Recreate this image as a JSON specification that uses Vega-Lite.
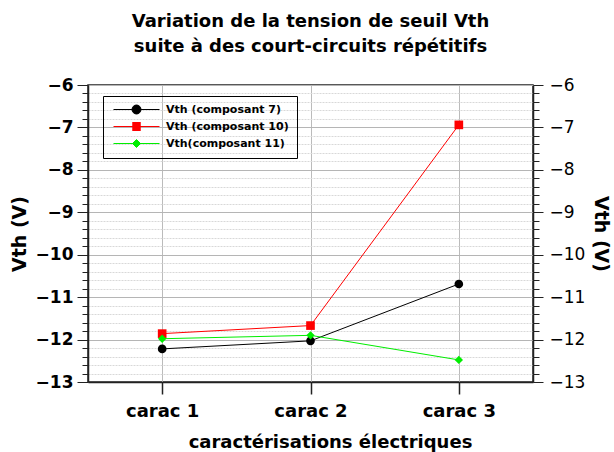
{
  "$schema": "https://vega.github.io/schema/vega-lite/v6.json",
  "width": 445,
  "height": 297,
  "autosize": "none",
  "padding": {"left": 88, "top": 85, "right": 81, "bottom": 70},
  "background": "white",
  "config": {
    "font": "DejaVu Sans",
    "view": {"stroke": "#222", "strokeWidth": 1.5}
  },
  "title": {
    "text": ["Variation de la tension de seuil Vth", "suite à des court-circuits répétitifs"],
    "font": "DejaVu Sans",
    "fontSize": 18,
    "fontWeight": "bold",
    "color": "black",
    "lineHeight": 25,
    "anchor": "middle",
    "offset": 20
  },
  "data": {
    "values": [
      {"carac": "carac 1", "serie": "Vth (composant 7)", "vth": -12.22},
      {"carac": "carac 2", "serie": "Vth (composant 7)", "vth": -12.03},
      {"carac": "carac 3", "serie": "Vth (composant 7)", "vth": -10.69},
      {"carac": "carac 1", "serie": "Vth (composant 10)", "vth": -11.86},
      {"carac": "carac 2", "serie": "Vth (composant 10)", "vth": -11.67},
      {"carac": "carac 3", "serie": "Vth (composant 10)", "vth": -6.94},
      {"carac": "carac 1", "serie": "Vth(composant 11)", "vth": -11.98},
      {"carac": "carac 2", "serie": "Vth(composant 11)", "vth": -11.9},
      {"carac": "carac 3", "serie": "Vth(composant 11)", "vth": -12.48}
    ]
  },
  "encoding": {
    "x": {
      "field": "carac",
      "type": "nominal",
      "scale": {"type": "point", "padding": 0.5},
      "axis": {
        "title": "caractérisations électriques",
        "titleFont": "DejaVu Sans",
        "titleFontSize": 18,
        "titleFontWeight": "bold",
        "titleColor": "black",
        "titlePadding": 13,
        "titleX": 242,
        "titleAlign": "center",
        "labelAngle": 0,
        "labelFont": "DejaVu Sans",
        "labelFontSize": 18,
        "labelFontWeight": "bold",
        "labelColor": "black",
        "labelPadding": 8,
        "tickSize": 12,
        "tickColor": "#222",
        "tickWidth": 1.5,
        "domainColor": "#222",
        "domainWidth": 1.5,
        "grid": true,
        "gridColor": "#bbbbbb",
        "gridWidth": 1
      }
    }
  },
  "layer": [
    {
      "mark": {"type": "line", "strokeWidth": 1},
      "encoding": {
        "y": {
          "field": "vth",
          "type": "quantitative",
          "scale": {"domain": [-13, -6], "nice": false, "zero": false},
          "axis": {
            "orient": "left",
            "title": "Vth (V)",
            "titleFont": "DejaVu Sans",
            "titleFontSize": 19,
            "titleFontWeight": "bold",
            "titleColor": "black",
            "titlePadding": 6,
            "values": [-13, -12, -11, -10, -9, -8, -7, -6],
            "format": "d",
            "labelFont": "DejaVu Sans",
            "labelFontSize": 17,
            "labelFontWeight": "bold",
            "labelColor": "black",
            "labelPadding": 4,
            "labelBound": false,
            "labelOverlap": false,
            "labelFlush": false,
            "tickSize": 11,
            "tickColor": "#222",
            "tickWidth": 1,
            "domainColor": "#222",
            "domainWidth": 1.5,
            "grid": true,
            "gridColor": "#b5b5b5",
            "gridWidth": 1
          }
        },
        "color": {
          "field": "serie",
          "type": "nominal",
          "scale": {
            "domain": ["Vth (composant 7)", "Vth (composant 10)", "Vth(composant 11)"],
            "range": ["#000000", "#ff0000", "#00ee00"]
          },
          "legend": {
            "orient": "none",
            "legendX": 15,
            "legendY": 11,
            "title": null,
            "strokeColor": "black",
            "padding": 8,
            "rowPadding": 4,
            "labelFont": "DejaVu Sans",
            "labelFontSize": 11,
            "labelFontWeight": "bold",
            "labelColor": "black",
            "symbolSize": 100,
            "symbolStrokeWidth": 1,
            "symbolOffset": 20,
            "labelOffset": 24,
            "symbolType": {"expr": "datum.value === 'Vth (composant 7)' ? 'M-4.6,0L4.6,0M-0.9,0A0.9,0.9,0,1,1,0.9,0A0.9,0.9,0,1,1,-0.9,0M-0.7,0A0.7,0.7,0,1,1,0.7,0A0.7,0.7,0,1,1,-0.7,0M-0.5,0A0.5,0.5,0,1,1,0.5,0A0.5,0.5,0,1,1,-0.5,0M-0.3,0A0.3,0.3,0,1,1,0.3,0A0.3,0.3,0,1,1,-0.3,0M-0.1,0A0.1,0.1,0,1,1,0.1,0A0.1,0.1,0,1,1,-0.1,0' : datum.value === 'Vth (composant 10)' ? 'M-4.6,0L4.6,0M-0.85,-0.8L0.85,-0.8M-0.85,-0.6L0.85,-0.6M-0.85,-0.4L0.85,-0.4M-0.85,-0.2L0.85,-0.2M-0.85,0.2L0.85,0.2M-0.85,0.4L0.85,0.4M-0.85,0.6L0.85,0.6M-0.85,0.8L0.85,0.8' : 'M-4.6,0L4.6,0M0,-0.8L0.8,0L0,0.8L-0.8,0ZM0,-0.6L0.6,0L0,0.6L-0.6,0ZM0,-0.4L0.4,0L0,0.4L-0.4,0ZM0,-0.2L0.2,0L0,0.2L-0.2,0Z'"},
            "symbolFillColor": {"expr": "scale('color', datum.value)"},
            "symbolStrokeColor": {"expr": "scale('color', datum.value)"}
          }
        }
      }
    },
    {
      "transform": [{"filter": "datum.serie === 'Vth (composant 7)'"}],
      "mark": {"type": "point", "shape": "circle", "filled": true, "opacity": 1, "size": 75},
      "encoding": {
        "y": {
          "field": "vth",
          "type": "quantitative",
          "axis": {
            "orient": "left",
            "title": null,
            "labels": false,
            "values": [-12.8, -12.6, -12.4, -12.2, -11.8, -11.6, -11.4, -11.2, -10.8, -10.6, -10.4, -10.2, -9.8, -9.6, -9.4, -9.2, -8.8, -8.6, -8.4, -8.2, -7.8, -7.6, -7.4, -7.2, -6.8, -6.6, -6.4, -6.2],
            "tickSize": 6,
            "tickColor": "#222",
            "tickWidth": 1,
            "domain": false,
            "grid": true,
            "gridColor": "#d8d8d8",
            "gridWidth": 1,
            "gridDash": [2, 1]
          }
        },
        "color": {"field": "serie", "type": "nominal", "legend": null}
      }
    },
    {
      "transform": [{"filter": "datum.serie === 'Vth (composant 10)'"}],
      "mark": {"type": "point", "shape": "square", "filled": true, "opacity": 1, "size": 75},
      "encoding": {
        "y": {"field": "vth", "type": "quantitative", "axis": null},
        "color": {"field": "serie", "type": "nominal", "legend": null}
      }
    },
    {
      "transform": [{"filter": "datum.serie === 'Vth(composant 11)'"}],
      "mark": {"type": "point", "shape": "diamond", "filled": true, "opacity": 1, "size": 70},
      "encoding": {
        "y": {"field": "vth", "type": "quantitative", "axis": null},
        "color": {"field": "serie", "type": "nominal", "legend": null}
      }
    },
    {
      "mark": {"type": "point", "opacity": 0},
      "encoding": {
        "y": {
          "field": "vth",
          "type": "quantitative",
          "axis": {
            "orient": "right",
            "title": "Vth (V)",
            "titleFont": "DejaVu Sans",
            "titleFontSize": 19,
            "titleFontWeight": "bold",
            "titleColor": "black",
            "titlePadding": 6,
            "values": [-13, -12, -11, -10, -9, -8, -7, -6],
            "format": "d",
            "labelFont": "DejaVu Sans",
            "labelFontSize": 17,
            "labelFontWeight": "normal",
            "labelColor": "black",
            "labelPadding": 6,
            "labelBound": false,
            "labelOverlap": false,
            "labelFlush": false,
            "tickSize": 10,
            "tickColor": "#222",
            "tickWidth": 1,
            "domainColor": "#222",
            "domainWidth": 1.5,
            "grid": false
          }
        }
      }
    },
    {
      "mark": {"type": "point", "opacity": 0},
      "encoding": {
        "y": {
          "field": "vth",
          "type": "quantitative",
          "axis": {
            "orient": "right",
            "title": null,
            "labels": false,
            "values": [-12.8, -12.6, -12.4, -12.2, -11.8, -11.6, -11.4, -11.2, -10.8, -10.6, -10.4, -10.2, -9.8, -9.6, -9.4, -9.2, -8.8, -8.6, -8.4, -8.2, -7.8, -7.6, -7.4, -7.2, -6.8, -6.6, -6.4, -6.2],
            "tickSize": 6,
            "tickColor": "#222",
            "tickWidth": 1,
            "domain": false,
            "grid": false
          }
        }
      }
    }
  ],
  "resolve": {"axis": {"y": "independent"}}
}
